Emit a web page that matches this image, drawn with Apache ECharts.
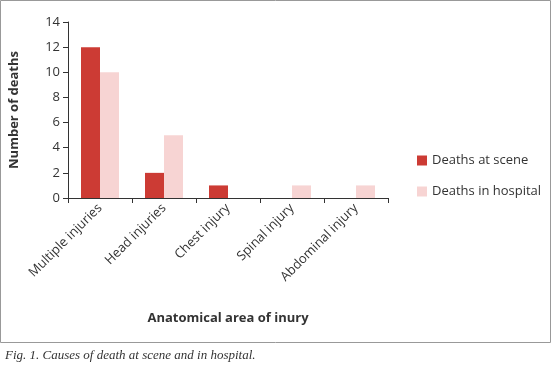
<!DOCTYPE html>
<html>
<head>
<meta charset="utf-8">
<script src="https://cdn.jsdelivr.net/npm/echarts@6/dist/echarts.min.js"></script>
<style>
  html, body { margin: 0; padding: 0; background: #fff; }
  #chart { width: 553px; height: 370px; }
</style>
</head>
<body>
<div id="chart"></div>
<script>
// categories and values
const categories = ['Multiple injuries', 'Head injuries', 'Chest injury', 'Spinal injury', 'Abdominal injury'];
const deathsAtScene = [12, 2, 1, 0, 0];
const deathsInHospital = [10, 5, 0, 1, 1];
const yTicks = [0, 2, 4, 6, 8, 10, 12, 14];

const font = '"Open Sans", "Noto Sans", sans-serif';
const chart = echarts.init(document.getElementById('chart'));

chart.setOption({
  animation: false,
  title: {
    text: 'Fig. 1. Causes of death at scene and in hospital.',
    left: 0,
    top: 344,
    textStyle: {
      fontFamily: '"Liberation Serif", serif',
      fontStyle: 'italic',
      fontWeight: 'normal',
      fontSize: 13,
      color: '#333'
    }
  },
  graphic: [{
    type: 'rect',
    shape: { x: 0.5, y: 0.5, width: 550, height: 342 },
    style: { fill: 'none', stroke: '#999', lineWidth: 1 }
  }],
  legend: {
    orient: 'vertical',
    left: 417,
    top: 154,
    padding: 0,
    itemWidth: 10,
    itemHeight: 10,
    itemGap: 18,
    icon: 'rect',
    textStyle: { fontFamily: font, fontSize: 13, color: '#333' },
    data: ['Deaths at scene', 'Deaths in hospital']
  },
  grid: { left: 65, top: 22, width: 323, height: 176 },
  xAxis: {
    type: 'category',
    data: categories,
    name: 'Anatomical area of inury',
    nameLocation: 'middle',
    nameGap: 114,
    nameTextStyle: { fontFamily: font, fontSize: 13, fontWeight: 'bold', color: '#333' },
    axisLine: { lineStyle: { color: '#333' } },
    axisTick: { show: true, alignWithLabel: false, length: 5, lineStyle: { color: '#333' } },
    axisLabel: { rotate: 45, fontFamily: font, fontSize: 13, color: '#333', margin: 8 }
  },
  yAxis: {
    type: 'value',
    min: yTicks[0],
    max: yTicks[yTicks.length - 1],
    interval: yTicks[1] - yTicks[0],
    name: 'Number of deaths',
    nameLocation: 'middle',
    nameGap: 47,
    nameTextStyle: { fontFamily: font, fontSize: 13, fontWeight: 'bold', color: '#333' },
    axisLine: { show: true, lineStyle: { color: '#333' } },
    axisTick: { show: true, length: 5, lineStyle: { color: '#333' } },
    axisLabel: { fontFamily: font, fontSize: 13, color: '#333', margin: 8 },
    splitLine: { show: false }
  },
  series: [
    {
      name: 'Deaths at scene',
      type: 'bar',
      data: deathsAtScene,
      barWidth: 19,
      barGap: '0%',
      itemStyle: { color: '#cc3b34' }
    },
    {
      name: 'Deaths in hospital',
      type: 'bar',
      data: deathsInHospital,
      barWidth: 19,
      barGap: '0%',
      itemStyle: { color: '#f7d4d3' }
    }
  ]
});
</script>
</body>
</html>
